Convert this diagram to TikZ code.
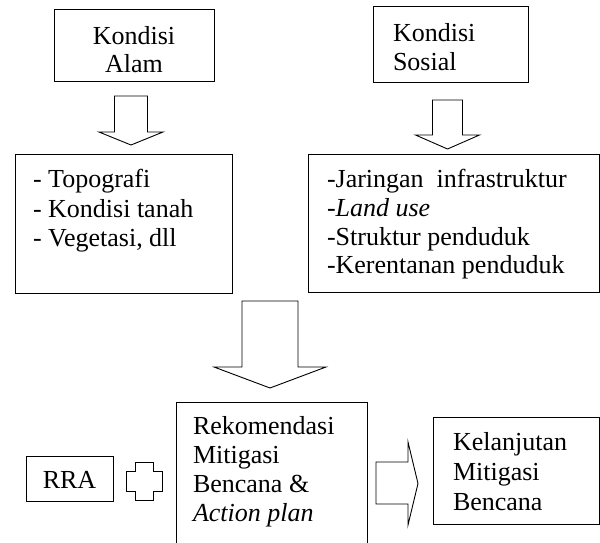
\documentclass[tikz,border=0pt]{standalone}
\usepackage{fontspec}
\setmainfont{Liberation Serif}
\begin{document}
\begin{tikzpicture}[x=1pt,y=-1pt,line width=0.9pt,
  every node/.style={font=\fontsize{26}{29}\selectfont, inner sep=0pt, outer sep=0pt},
  box/.style={draw, rectangle, anchor=north west},
  txt/.style={anchor=base west},
  ctxt/.style={anchor=base},
  blockarrow/.style={draw, fill=white, line join=miter}]
\useasboundingbox (0,0) rectangle (600,542);
% boxes
\node[box, minimum width=160pt, minimum height=72pt] (alam) at (54,9) {};
\node[box, minimum width=155pt, minimum height=76pt] (sosial) at (373,6) {};
\node[box, minimum width=217pt, minimum height=139pt] (listL) at (15,154) {};
\node[box, minimum width=291pt, minimum height=138pt] (listR) at (308,154) {};
\node[rectangle, anchor=north west, minimum width=191pt, minimum height=145pt] (rek) at (176,402) {};
\draw (rek.south west) -- (rek.north west) -- (rek.north east) -- (rek.south east);
\node[box, minimum width=166pt, minimum height=107pt] (kel) at (433,417) {};
\node[box, minimum width=87pt, minimum height=45pt] (rra) at (26,456) {};
% texts
\node[ctxt] (alam1) at (134,44) {Kondisi};
\node[ctxt] (alam2) at (134,72) {Alam};
\node[txt] (sos1) at (393,41) {Kondisi};
\node[txt] (sos2) at (393,70) {Sosial};
\node[txt] (l1) at (33,187) {- Topografi};
\node[txt] (l2) at (33,217) {- Kondisi tanah};
\node[txt] (l3) at (33,246) {- Vegetasi, dll};
\node[txt] (r1) at (327,187) {-Jaringan\ \ infrastruktur};
\node[txt] (r2) at (327,216) {-\textit{Land use}};
\node[txt] (r3) at (327,245) {-Struktur penduduk};
\node[txt] (r4) at (327,273) {-Kerentanan penduduk};
\node[txt] (k1) at (193,434) {Rekomendasi};
\node[txt] (k2) at (193,463) {Mitigasi};
\node[txt] (k3) at (193,492) {Bencana \&};
\node[txt] (k4) at (193,521) {\textit{Action plan}};
\node[txt] (m1) at (453,450) {Kelanjutan};
\node[txt] (m2) at (453,480) {Mitigasi};
\node[txt] (m3) at (453,510) {Bencana};
\node[ctxt] (rratxt) at (69.5,488) {RRA};
% block arrows
\draw[blockarrow] (114.5,96) -- (147.5,96) -- (147.5,132) -- (163,132) -- (131,145) -- (99,132) -- (114.5,132) -- cycle;
\draw[blockarrow] (432.5,100) -- (462.5,100) -- (462.5,135) -- (479.5,135) -- (447.5,149) -- (415.5,135) -- (432.5,135) -- cycle;
\draw[blockarrow] (242,301) -- (298,301) -- (298,367) -- (326,367) -- (270,388) -- (214,367) -- (242,367) -- cycle;
\draw[blockarrow] (376,462) -- (408,462) -- (408,442) -- (418,483.5) -- (408,525) -- (408,504) -- (376,504) -- cycle;
% plus sign
\draw[blockarrow] (135,462) -- (153,462) -- (153,471) -- (162,471) -- (162,491) -- (153,491) -- (153,500) -- (135,500) -- (135,491) -- (126,491) -- (126,471) -- (135,471) -- cycle;
\end{tikzpicture}
\end{document}
